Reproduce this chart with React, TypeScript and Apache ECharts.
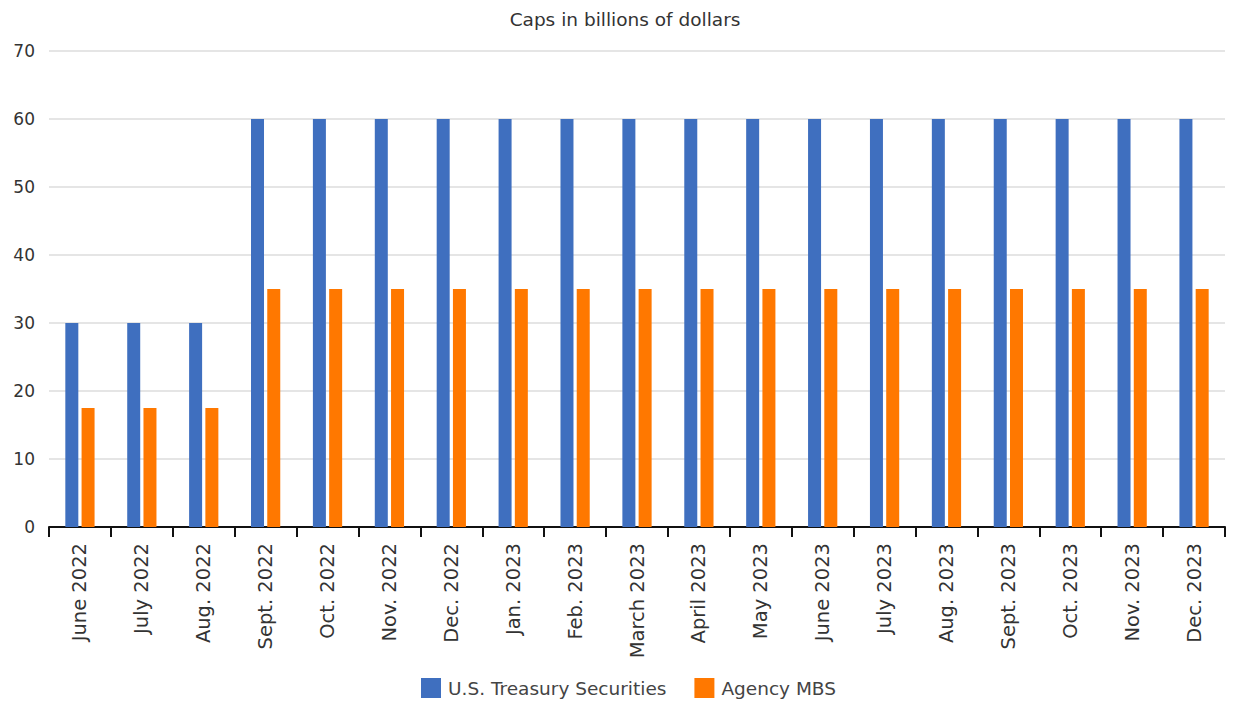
import React, { useEffect, useRef } from "react";
import * as echarts from "echarts";

const categories = [
  "June 2022", "July 2022", "Aug. 2022", "Sept. 2022", "Oct. 2022", "Nov. 2022",
  "Dec. 2022", "Jan. 2023", "Feb. 2023", "March 2023", "April 2023", "May 2023",
  "June 2023", "July 2023", "Aug. 2023", "Sept. 2023", "Oct. 2023", "Nov. 2023", "Dec. 2023",
];
const treasury = [30, 30, 30, 60, 60, 60, 60, 60, 60, 60, 60, 60, 60, 60, 60, 60, 60, 60, 60];
const mbs = [17.5, 17.5, 17.5, 35, 35, 35, 35, 35, 35, 35, 35, 35, 35, 35, 35, 35, 35, 35, 35];
const yTicks = { min: 0, max: 70, interval: 10 };

const FONT = "DejaVu Sans";

export default function App() {
  const ref = useRef<HTMLDivElement>(null);
  useEffect(() => {
    if (!ref.current) return;
    const chart = echarts.init(ref.current, undefined, { renderer: "svg" });
    chart.setOption({
      animation: false,
      backgroundColor: "#ffffff",
      title: {
        text: "Caps in billions of dollars",
        left: 620,
        textAlign: "center",
        top: 5,
        textStyle: { fontFamily: FONT, fontSize: 18.5, fontWeight: "normal", color: "#333" },
      },
      legend: {
        top: 678,
        left: 421,
        padding: 0,
        itemWidth: 20,
        itemHeight: 20,
        itemGap: 28,
        icon: "rect",
        textStyle: { fontFamily: FONT, fontSize: 18.5, color: "#444", padding: [0, 0, 0, 2] },
        data: ["U.S. Treasury Securities", "Agency MBS"],
      },
      grid: { left: 49, right: 8, top: 51, bottom: 175, containLabel: false },
      xAxis: {
        type: "category",
        data: categories,
        axisLine: { lineStyle: { color: "#111", width: 2 } },
        axisTick: { show: true, length: 10, lineStyle: { color: "#111", width: 2 } },
        axisLabel: {
          rotate: 90,
          interval: 0,
          margin: 16,
          fontFamily: FONT,
          fontSize: 19.5,
          color: "#333",
        },
      },
      yAxis: {
        type: "value",
        min: yTicks.min,
        max: yTicks.max,
        interval: yTicks.interval,
        axisLine: { show: false },
        axisTick: { show: false },
        splitLine: { lineStyle: { color: "#dcdcdc", width: 1.5 } },
        axisLabel: { fontFamily: FONT, fontSize: 17, color: "#333", margin: 14 },
      },
      series: [
        {
          name: "U.S. Treasury Securities",
          type: "bar",
          data: treasury,
          barWidth: 13,
          barGap: "25%",
          itemStyle: { color: "#3f6fbf" },
        },
        {
          name: "Agency MBS",
          type: "bar",
          data: mbs,
          barWidth: 13,
          itemStyle: { color: "#ff7800" },
        },
      ],
    });
    return () => chart.dispose();
  }, []);
  return (
    <div
      ref={ref}
      style={{ position: "absolute", left: 0, top: 0, width: 1233, height: 702 }}
    />
  );
}
